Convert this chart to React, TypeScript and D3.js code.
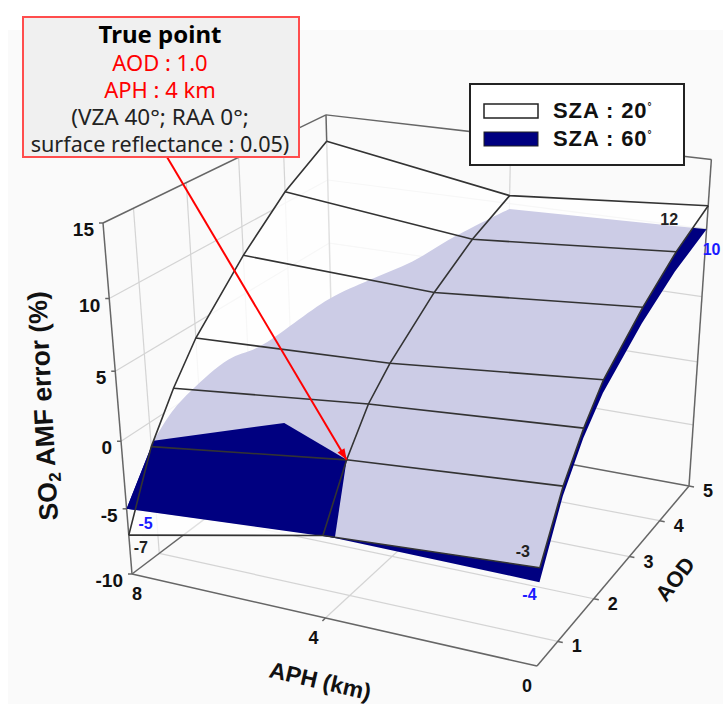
import React from 'react';
import * as d3 from 'd3';

const width = 723;
const height = 704;

// axis ticks
const aphTicks = [8, 4, 0];
const aodTicks = [1, 2, 3, 4, 5];
const errTicks = [-10, -5, 0, 5, 10, 15];

// surface nodes
const aodNodes = [0, 1, 1.5, 2, 3, 4, 5];
const aphNodes = [8, 4, 0];
const sza20Aph8 = [-7, -1.78, 1.34, 3.93, 7.87, 10.84, 13.0];
const sza20Aph4 = [-3.9, 0.04, 2.76, 4.48, 7.25, 9.2, 10.6];
const sza20Aph0 = [-3, 1.07, 3.72, 5.8, 8.4, 10.3, 11.7];
const sza60Aph0 = [-4, 0.39, 3.04, 4.9, 7.3, 8.9, 10];

// SZA 60 outer edge where it leaves the grid, as [APH, AOD, error]
const sza60Edge = [
  [8, 1.05, -1.47],
  [7.84, 1.31, 0.21],
  [7.6, 1.5, 1.48],
  [7.14, 1.83, 3.23],
  [6.64, 2, 4.12],
  [5.86, 2.68, 6.47],
  [5.32, 3, 7.45],
  [4.78, 3.42, 8.27],
  [4.32, 4, 9.33],
  [4, 5, 9.6],
];
const sza60FrontAph8 = -5;
const sza60FrontAph4 = -3.9;

// part of SZA 60 that lies above SZA 20
const sza60Above = [
  [8, 0, -5],
  [8, 1.05, -1.47],
  [5.7, 1.5, 0.27],
  [4, 1, 0.04],
  [3.77, 0, -3.88],
];

const truePoint = [4, 1, 0.04];

// box corners on the page, a = APH side, b = AOD side, c = error side
const p000 = [132, 574];
const p100 = [537, 666];
const p110 = [689, 486];
const p010 = [334, 421];
const p001 = [103, 223];
const p011 = [326, 117];

const aScale = d3.scaleLinear().domain([8, 0]).range([0, 1]);
const bScale = d3.scaleLinear().domain([0, 1, 2, 3, 4, 5]).range([0, 0.117, 0.333, 0.565, 0.778, 1]);
const cScale = d3.scaleLinear().domain([-10, 15]).range([0, 1]);

// perspective weights from the corners
function solveWeights() {
  const r = [p110[0] + p000[0] - p100[0] - p010[0], p110[1] + p000[1] - p100[1] - p010[1]];
  const m = [p100[0] - p110[0], p100[1] - p110[1], p010[0] - p110[0], p010[1] - p110[1]];
  const det = m[0] * m[3] - m[2] * m[1];
  const wa = (r[0] * m[3] - m[2] * r[1]) / det;
  const wb = (m[0] * r[1] - m[1] * r[0]) / det;
  const rx = (p010[0] - p011[0]) * (1 + wb) + p001[0] - p000[0];
  const wc = rx / (p011[0] - p001[0]);
  return [wa, wb, wc];
}
const [wa, wb, wc] = solveWeights();

function project(aph: number, aod: number, err: number): [number, number] {
  const a = aScale(aph), b = bScale(aod), c = cScale(err);
  const w = 1 + a * wa + b * wb + c * wc;
  const f = (i: number) =>
    p000[i] +
    a * (p100[i] * (1 + wa) - p000[i]) +
    b * (p010[i] * (1 + wb) - p000[i]) +
    c * (p001[i] * (1 + wc) - p000[i]);
  return [f(0) / w, f(1) / w];
}

const line = d3.line();
const smoothLine = d3.line().curve(d3.curveCatmullRom);
const closed = (pts: [number, number][]) => line(pts) + 'Z';
const seg = (a: number[], b: number[]) => line([project(a[0], a[1], a[2]), project(b[0], b[1], b[2])]) as string;

const byAph: Record<number, number[]> = { 8: sza20Aph8, 4: sza20Aph4, 0: sza20Aph0 };
const nodeLine = (aph: number, vals: number[]) => aodNodes.map((d, i) => project(aph, d, vals[i]));

const sza20Outline = [
  ...nodeLine(8, sza20Aph8),
  project(4, 5, sza20Aph4[6]),
  ...nodeLine(0, sza20Aph0).reverse(),
  project(4, 0, sza20Aph4[0]),
];
// curved outer edge first, then straight along the grid
const sza60Rest = [
  ...nodeLine(0, sza60Aph0).reverse(),
  project(4, 0, sza60FrontAph4),
  project(8, 0, sza60FrontAph8),
];
const sza60Path =
  smoothLine(sza60Edge.map(d => project(d[0], d[1], d[2]))) +
  'L' + sza60Rest.map(p => p.join(',')).join('L') + 'Z';

const tip = project(truePoint[0], truePoint[1], truePoint[2]);
const arrowStart: [number, number] = [167, 157];
const arrowAngle = Math.atan2(tip[1] - arrowStart[1], tip[0] - arrowStart[0]);
const headAt = (back: number, side: number): [number, number] => [
  tip[0] - back * Math.cos(arrowAngle) - side * Math.sin(arrowAngle),
  tip[1] - back * Math.sin(arrowAngle) + side * Math.cos(arrowAngle),
];

const gridColor = '#d4d4d4';
const boxColor = '#666666';
const navy = '#000080';
const labelFont = '"Liberation Sans", Arial, sans-serif';
const noteFont = '"Noto Sans", sans-serif';
const aphLabelNudge = d3.scaleLinear().domain([8, 4, 0]).range([5, -12, -10]);

function App() {
  return (
    <svg width={width} height={height} style={{ position: 'absolute', left: 0, top: 0 }}>
      <rect x={8} y={30} width={width - 8} height={height - 30} fill="#fafafa" />

      {/* walls and floor */}
      <g fill="none" stroke={gridColor} strokeWidth={1.2}>
        {errTicks.slice(1, -1).map(t => (
          <g key={t}>
            <path d={seg([8, 0, t], [8, 5, t])} />
            <path d={seg([8, 5, t], [0, 5, t])} />
          </g>
        ))}
        {aodTicks.slice(0, -1).map(t => (
          <g key={t}>
            <path d={seg([8, t, -10], [8, t, 15])} />
            <path d={seg([8, t, -10], [0, t, -10])} />
          </g>
        ))}
        <path d={seg([4, 5, -10], [4, 5, 15])} />
        <path d={seg([4, 0, -10], [4, 5, -10])} />
      </g>
      <g fill="none" stroke={boxColor} strokeWidth={1.5}>
        <path d={seg([8, 0, -10], [8, 0, 15])} />
        <path d={seg([8, 0, 15], [8, 5, 15])} />
        <path d={seg([8, 5, 15], [0, 5, 15])} />
        <path d={seg([0, 5, 15], [0, 5, -10])} />
        <path d={seg([8, 5, 15], [8, 5, -10])} />
        <path d={seg([8, 5, -10], [0, 5, -10])} />
        <path d={seg([8, 0, -10], [8, 5, -10])} />
        <path d={seg([8, 0, -10], [0, 0, -10])} />
        <path d={seg([0, 0, -10], [0, 5, -10])} />
      </g>

      {/* surfaces */}
      <path d={sza60Path} fill={navy} />
      <path d={closed(sza20Outline)} fill="#ffffff" fillOpacity={0.8} />
      <path d={closed(sza60Above.map(d => project(d[0], d[1], d[2])))} fill={navy} />
      <g fill="none" stroke="#333333" strokeWidth={1.6}>
        {aphNodes.map(aph => (
          <path key={aph} d={line(nodeLine(aph, byAph[aph])) as string} />
        ))}
        {aodNodes.map((d, i) => (
          <path key={d} d={line(aphNodes.map(aph => project(aph, d, byAph[aph][i]))) as string} />
        ))}
      </g>

      {/* ticks */}
      <g stroke={boxColor} strokeWidth={1.5}>
        {errTicks.map(t => {
          const [x, y] = project(8, 0, t);
          return <line key={t} x1={x} y1={y} x2={x - 4} y2={y} />;
        })}
        {aodTicks.map(t => {
          const [x, y] = project(0, t, -10);
          return <line key={t} x1={x} y1={y} x2={x + 5} y2={y + 1} />;
        })}
        {aphTicks.slice(1, 2).map(t => {
          const [x, y] = project(t, 0, -10);
          return <line key={t} x1={x} y1={y} x2={x - 3} y2={y + 3} />;
        })}
      </g>
      <g fontFamily={labelFont} fontWeight="bold" fill="#111111">
        {errTicks.map(t => {
          const [x, y] = project(8, 0, t);
          return (
            <text key={t} x={x - 9} y={y + 13} textAnchor="end" fontSize={19}>
              {t}
            </text>
          );
        })}
        {aodTicks.map(t => {
          const [x, y] = project(0, t, -10);
          return (
            <text key={t} x={x + 19} y={y + 11} textAnchor="middle" fontSize={18}>
              {t}
            </text>
          );
        })}
        {aphTicks.map(t => {
          const [x, y] = project(t, 0, -10);
          return (
            <text key={t} x={x + aphLabelNudge(t)} y={y + 26} textAnchor="middle" fontSize={18}>
              {t}
            </text>
          );
        })}
        <text transform="translate(58,520) rotate(-93)" fontSize={26.5}>
          SO<tspan fontSize={17} dy={5}>2</tspan><tspan dy={-5}> AMF error (%)</tspan>
        </text>
        <text transform="translate(268,677) rotate(13)" fontSize={23}>APH (km)</text>
        <text transform="translate(666,603) rotate(-52)" fontSize={22}>AOD</text>
      </g>

      {/* corner values */}
      <g fontFamily={labelFont} fontWeight="bold" fontSize={16} textAnchor="middle">
        <text x={project(8, 0, -7)[0] + 12} y={project(8, 0, -7)[1] + 18} fill="#222222">-7</text>
        <text x={project(0, 5, 11.7)[0] - 39} y={project(0, 5, 11.7)[1] + 19} fill="#222222">12</text>
        <text x={project(0, 0, -3)[0] - 17} y={project(0, 0, -3)[1] - 11} fill="#222222">-3</text>
        <text x={project(8, 0, -5)[0] + 19} y={project(8, 0, -5)[1] + 20} fill="#1a1aff">-5</text>
        <text x={project(0, 5, 10)[0] + 5} y={project(0, 5, 10)[1] + 26} fill="#1a1aff">10</text>
        <text x={project(0, 0, -4)[0] - 10} y={project(0, 0, -4)[1] + 18} fill="#1a1aff">-4</text>
      </g>

      {/* true point arrow */}
      <line x1={arrowStart[0]} y1={arrowStart[1]} x2={tip[0]} y2={tip[1]} stroke="#ff0000" strokeWidth={2} />
      <path d={closed([tip, headAt(11, 4), headAt(11, -4)])} fill="#ff0000" />

      {/* call-out */}
      <rect x={23} y={17} width={276} height={140} fill="#f0f0f0" stroke="#ff4d4d" strokeWidth={2} />
      <g fontFamily={noteFont} textAnchor="middle">
        <text x={160} y={43} fontSize={24} fontWeight="bold" fill="#000000">True point</text>
        <text x={160} y={71} fontSize={22} fill="#ff0000">AOD : 1.0</text>
        <text x={160} y={98} fontSize={22} fill="#ff0000">APH : 4 km</text>
        <text x={160} y={125} fontSize={22.5} fill="#222222">(VZA 40°; RAA 0°;</text>
        <text x={160} y={152} fontSize={21.6} fill="#222222">surface reflectance : 0.05)</text>
      </g>

      {/* legend */}
      <rect x={470} y={84} width={214} height={81} fill="#ffffff" stroke="#222222" strokeWidth={2} />
      <rect x={484} y={104} width={54} height={14} fill="#ffffff" stroke="#222222" strokeWidth={1.5} />
      <rect x={484} y={132} width={54} height={14} fill={navy} stroke="#222222" strokeWidth={1} />
      <g fontFamily={labelFont} fontWeight="bold" fontSize={22} letterSpacing={0.9} fill="#111111">
        <text x={553} y={118}>SZA : 20<tspan fontSize={10} dy={-8}>°</tspan></text>
        <text x={553} y={146}>SZA : 60<tspan fontSize={10} dy={-8}>°</tspan></text>
      </g>
    </svg>
  );
}

export default App;
